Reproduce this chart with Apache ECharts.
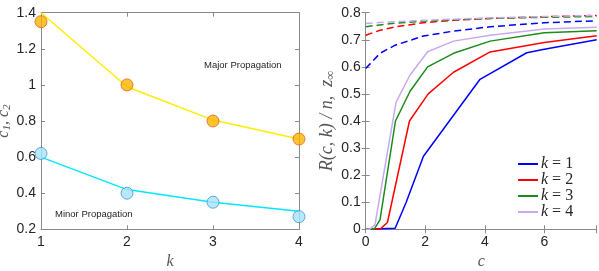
<!DOCTYPE html>
<html><head><meta charset="utf-8">
<script src="https://cdn.jsdelivr.net/npm/echarts@6/dist/echarts.min.js"></script>
<style>html,body{margin:0;padding:0;background:#fff}#c{width:599px;height:271px}</style>
</head><body><div id="c"></div>
<script>
// Left panel data
const kValues = [1, 2, 3, 4];
const c1Points = [1.35, 1.0, 0.80, 0.70];
const c1Line = [1.40, 0.99, 0.805, 0.70];
const c2Points = [0.62, 0.40, 0.35, 0.27];
const c2Line = [0.60, 0.42, 0.35, 0.30];

// Right panel data: [c, value]
const r1 = [[0,0],[0.99,0.004],[1.36,0.10],[1.94,0.27],[3.84,0.554],[5.41,0.652],[6.0,0.665],[7.76,0.70]];
const r2 = [[0,0],[0.48,0],[0.73,0.025],[1.47,0.40],[2.1,0.50],[2.95,0.58],[4.18,0.655],[6.0,0.69],[7.76,0.715]];
const r3 = [[0,0],[0.28,0],[0.48,0.035],[1.0,0.40],[1.49,0.51],[2.08,0.60],[2.95,0.65],[4.18,0.695],[6.0,0.726],[7.76,0.733]];
const r4 = [[0,0],[0.12,0],[0.31,0.016],[1.02,0.47],[1.49,0.57],[2.08,0.656],[2.95,0.695],[4.18,0.717],[6.0,0.74],[7.76,0.746]];
const z1 = [[0,0.594],[0.48,0.65],[0.99,0.68],[1.94,0.714],[2.95,0.732],[4.18,0.748],[6.0,0.763],[7.76,0.77]];
const z2 = [[0,0.717],[0.48,0.735],[1.0,0.748],[1.94,0.763],[2.95,0.772],[4.18,0.779],[6.0,0.785],[7.76,0.79]];
const z3 = [[0,0.748],[0.48,0.755],[1.0,0.761],[1.94,0.769],[2.95,0.774],[4.18,0.779],[6.0,0.783],[7.76,0.786]];
const z4 = [[0,0.76],[0.48,0.764],[1.0,0.767],[1.94,0.772],[2.95,0.776],[4.18,0.781],[6.0,0.786],[7.76,0.79]];
const legendLabels = ['k = 1', 'k = 2', 'k = 3', 'k = 4'];
const curveColors = ['#0000ff', '#ff0000', '#1a8c1a', '#c9a9f2'];

const chart = echarts.init(document.getElementById('c'));
const axisCol = '#8a8a8a';
const txtCol = '#262626';
const lblFont = {color: txtCol, fontSize: 14, fontFamily: 'Liberation Sans'};
function axisCommon(showLabel, margin) {
  return {
    axisLine: {show: true, lineStyle: {color: axisCol, width: 1}},
    axisTick: {show: true, inside: true, length: 4, lineStyle: {color: axisCol}},
    splitLine: {show: false},
    axisLabel: Object.assign({show: showLabel, margin: margin}, lblFont)
  };
}
const nc = '#555';
function mathStyle(fs) {
  return {
    color: nc, fontSize: fs, fontFamily: 'Liberation Serif', fontStyle: 'italic',
    rich: {
      i: {fontSize: fs, fontFamily: 'Liberation Serif', fontStyle: 'italic', color: nc},
      r: {fontSize: fs, fontFamily: 'Liberation Serif', color: nc},
      s: {fontSize: fs * 0.7, fontFamily: 'Liberation Serif', fontStyle: 'italic', color: nc, verticalAlign: 'bottom', padding: [fs * 0.45,0,0,0]}
    }
  };
}

const series = [];
series.push({type:'line', xAxisIndex:0, yAxisIndex:0, data:kValues.map((k,i)=>[k,c1Line[i]]), symbol:'none', lineStyle:{color:'#ffee00', width:1.5}, z:2});
series.push({type:'line', xAxisIndex:0, yAxisIndex:0, data:kValues.map((k,i)=>[k,c2Line[i]]), symbol:'none', lineStyle:{color:'#00e8ff', width:1.5}, z:2});
series.push({type:'scatter', xAxisIndex:0, yAxisIndex:0, data:kValues.map((k,i)=>[k,c1Points[i]]), symbolSize:12, clip:false, itemStyle:{color:'#f7b500', borderColor:'#e8601c', borderWidth:1}, z:3});
series.push({type:'scatter', xAxisIndex:0, yAxisIndex:0, data:kValues.map((k,i)=>[k,c2Points[i]]), symbolSize:12, clip:false, itemStyle:{color:'#a6e2f7', borderColor:'#3d9ad1', borderWidth:1}, z:3});
const dashed = [z1, z2, z3, z4];
[r1, r2, r3, r4].forEach((d, i) => {
  series.push({type:'line', name: legendLabels[i], xAxisIndex:2, yAxisIndex:2, data:d, symbol:'none', lineStyle:{color:curveColors[i], width:1.5}, itemStyle:{color:curveColors[i]}, z:2});
});
dashed.forEach((d, i) => {
  series.push({type:'line', xAxisIndex:2, yAxisIndex:2, data:d, symbol:'none', lineStyle:{color:curveColors[i], width:1.5, type:[7,4]}, z:2});
});

chart.setOption({
  animation: false,
  grid: [
    {left: 41, top: 12.7, width: 258, height: 216.6, outerBoundsMode: 'none', containLabel: false},
    {left: 365.7, top: 12.7, width: 231, height: 216.6, outerBoundsMode: 'none', containLabel: false}
  ],
  xAxis: [
    Object.assign(axisCommon(true, 6), {type:'value', gridIndex:0, min:1, max:4, interval:1, name:'k', nameLocation:'middle', nameGap:22, nameTextStyle:mathStyle(16)}),
    Object.assign(axisCommon(false, 6), {type:'value', gridIndex:0, position:'top', min:1, max:4, interval:1}),
    Object.assign(axisCommon(true, 6), {type:'value', gridIndex:1, min:0, max:7.76, interval:2, name:'c', nameLocation:'middle', nameGap:22, nameTextStyle:mathStyle(16),
      axisLabel: Object.assign({margin: 6, formatter: v => (Math.abs(v % 2) < 1e-9 ? String(v) : '')}, lblFont)}),
    Object.assign(axisCommon(false, 6), {type:'value', gridIndex:1, position:'top', min:0, max:7.76, interval:2})
  ],
  yAxis: [
    Object.assign(axisCommon(true, 5), {type:'value', gridIndex:0, min:0.2, max:1.4, interval:0.2, name:'{i|c}{s|1}{r|, }{i|c}{s|2}', nameLocation:'middle', nameGap:23, nameRotate:90, nameTextStyle:mathStyle(16)}),
    Object.assign(axisCommon(false, 5), {type:'value', gridIndex:0, position:'right', min:0.2, max:1.4, interval:0.2}),
    Object.assign(axisCommon(true, 5), {type:'value', gridIndex:1, min:0, max:0.8, interval:0.1, name:'{i|R}{r|(}{i|c}{r|, }{i|k}{r|) / }{i|n}{r|,  }{i|z}{s|∞}', nameLocation:'middle', nameGap:27, nameRotate:90, nameTextStyle:mathStyle(18)}),
    Object.assign(axisCommon(false, 5), {type:'value', gridIndex:1, position:'right', min:0, max:0.8, interval:0.1})
  ],
  legend: {
    data: legendLabels, orient:'vertical', left: 513, top: 151, itemWidth: 20, itemHeight: 2, itemGap: 0, icon: 'rect',
    formatter: (n) => '{i|k}{r| = ' + n.slice(4) + '}',
    textStyle: {padding:[0,0,0,-2], rich: {i:{fontSize:16, fontFamily:'Liberation Serif', fontStyle:'italic', color:txtCol, lineHeight:15}, r:{fontSize:16, fontFamily:'Liberation Serif', color:txtCol, lineHeight:15}}}
  },
  graphic: [
    {type:'text', left: 204, top: 60, style:{text:'Major Propagation', fontSize: 9.5, fontFamily:'Liberation Sans', fill: txtCol}},
    {type:'text', left: 55, top: 209, style:{text:'Minor Propagation', fontSize: 9.5, fontFamily:'Liberation Sans', fill: txtCol}}
  ],
  series
});
</script></body></html>
